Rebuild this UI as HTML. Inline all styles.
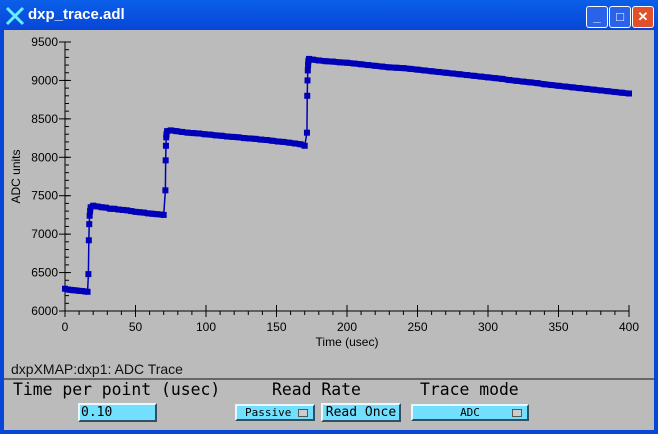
<!DOCTYPE html>
<html><head><meta charset="utf-8"><style>
body{margin:0;width:658px;height:434px;overflow:hidden;background:#0a3fd8;font-family:"Liberation Sans",sans-serif}
.win{position:absolute;left:0;top:0;width:658px;height:434px;background:linear-gradient(#0a5fe8,#0846d8 30px,#0846d8)}
.title{position:absolute;left:28px;top:6px;color:#fff;font-weight:bold;font-size:15px}
.btn{position:absolute;top:6px;width:20px;height:20px;border:1px solid #fff;border-radius:3px;background:#2a62ea;color:#fff;font-size:13px;text-align:center;line-height:20px;font-weight:bold}
.client{position:absolute;left:4px;top:30px;width:650px;height:400px;background:#bbbbbb}
.ctl{position:absolute;font-family:"DejaVu Sans Mono","Liberation Mono",monospace}
.cy{position:absolute;background:#73dfff;border:2px solid;border-color:#e8f8ff #305060 #305060 #e8f8ff;box-sizing:border-box;font-size:11px;font-family:"DejaVu Sans Mono",monospace;color:#000}
</style></head><body>
<div class="win">
<svg style="position:absolute;left:5px;top:6px" width="20" height="20"><path d="M2 2L18 18M18 2L2 18" stroke="#6ef" stroke-width="3"/></svg>
<div class="title">dxp_trace.adl</div>
<div class="btn" style="left:586px">_</div>
<div class="btn" style="left:609px">□</div>
<div class="btn" style="left:632px;background:#e0502a">✕</div>
<div class="client"></div>
<svg id="chart" style="position:absolute;left:0;top:0" width="658" height="380"></svg>
<div style="position:absolute;left:11px;top:361px;font-size:14px;color:#111">dxpXMAP:dxp1: ADC Trace</div>
<div style="position:absolute;left:4px;top:378px;width:650px;height:2px;background:#666"></div>
<div class="ctl" style="left:13px;top:380px;font-size:16.4px">Time per point (usec)</div>
<div class="ctl" style="left:272px;top:380px;font-size:16.4px">Read Rate</div>
<div class="ctl" style="left:420px;top:380px;font-size:16.4px">Trace mode</div>
<div class="cy" style="left:78px;top:403px;width:79px;height:19px;padding-left:1px;line-height:15px;font-size:13px">0.10</div>
<div class="cy" style="left:235px;top:404px;width:80px;height:17px;padding-left:8px;line-height:13px">Passive<span style="position:absolute;right:5px;top:3px;width:8px;height:6px;background:#ccc;border:1px solid #555"></span></div>
<div class="cy" style="left:321px;top:403px;width:80px;height:19px;text-align:center;line-height:15px;font-size:13px">Read Once</div>
<div class="cy" style="left:411px;top:404px;width:118px;height:17px;text-align:center;line-height:13px">ADC<span style="position:absolute;right:5px;top:3px;width:8px;height:6px;background:#ccc;border:1px solid #555"></span></div>
</div>
<script>
const times=[0,2,4,6,8,10,12,14,16,16.6,16.9,17.2,17.5,17.8,18.2,
20,23,26,29,32,35,38,41,44,47,50,53,56,59,62,65,68,70,
71.2,71.4,71.6,71.8,72,72.4,
75,79,83,87,91,95,99,103,107,111,115,119,123,127,131,135,139,143,147,151,155,159,163,167,170,
171.6,171.8,172,172.2,172.4,172.6,173,
176,180,185,190,195,200,205,210,215,220,225,230,235,240,245,250,255,260,265,270,275,280,285,290,295,300,305,310,315,320,325,330,335,340,345,350,355,360,365,370,375,380,385,390,395,400];
const values=[6290,6280,6275,6270,6268,6262,6260,6255,6250,6480,6920,7130,7240,7300,7350,
7370,7360,7350,7345,7330,7330,7320,7315,7310,7300,7290,7285,7280,7270,7265,7260,7255,7250,
7570,7960,8150,8260,8300,8340,
8350,8340,8330,8320,8315,8310,8300,8295,8285,8280,8270,8265,8260,8250,8245,8240,8230,8225,8215,8205,8200,8190,8180,8170,8150,
8320,8800,9000,9130,9200,9250,9280,
9270,9260,9250,9245,9235,9230,9220,9210,9200,9190,9180,9170,9165,9160,9150,9140,9130,9120,9110,9100,9090,9080,9070,9060,9050,9040,9030,9020,9005,8995,8985,8975,8965,8950,8940,8930,8920,8910,8900,8890,8880,8870,8860,8850,8840,8830];
const xTicks=[0,50,100,150,200,250,300,350,400];
const yTicks=[6000,6500,7000,7500,8000,8500,9000,9500];
const X0=65,X1=629,Y0=311,Y1=42;
const xs=t=>X0+(t-0)/400*(X1-X0);
const ys=v=>Y0-(v-6000)/3500*(Y0-Y1);
const NS='http://www.w3.org/2000/svg',svg=document.getElementById('chart');
function mk(tag,attrs){const e=document.createElementNS(NS,tag);for(const k in attrs)e.setAttribute(k,attrs[k]);svg.appendChild(e);return e;}
let ax=mk('path',{d:`M${X0} ${Y1}V${Y0}H${X1}`,stroke:'#000',fill:'none','stroke-width':1});


xTicks.forEach(t=>{const x=xs(t);
 let l=mk('line',{x1:x,x2:x,y1:Y0-6,y2:Y0+6,stroke:'#000'});
 
 
 let tx=mk('text',{x:x,y:Y0+20,'text-anchor':'middle','font-size':12,'font-family':'Liberation Sans'});tx.textContent=t;
 
 });
for(let t=0;t<400;t+=10){const x=xs(t);mk('line',{x1:x,x2:x,y1:Y0,y2:Y0+4,stroke:'#000'});}
yTicks.forEach(v=>{const y=ys(v);
 let l=mk('line',{x1:X0-6,x2:X0+6,y1:y,y2:y,stroke:'#000'});
 
 
 let tx=mk('text',{x:X0-7,y:y+4,'text-anchor':'end','font-size':12,'font-family':'Liberation Sans'});tx.textContent=v;
 
 });
for(let v=6000;v<9500;v+=100){const y=ys(v);mk('line',{x1:X0,x2:X0+4,y1:y,y2:y,stroke:'#000'});}
let xt=mk('text',{x:(X0+X1)/2,y:Y0+35,'text-anchor':'middle','font-size':12});xt.textContent='Time (usec)';


let yt=mk('text',{x:20,y:(Y0+Y1)/2,'text-anchor':'middle','font-size':12,transform:`rotate(-90 20 ${(Y0+Y1)/2})`});yt.textContent='ADC units';


let ln=mk('polyline',{points:times.map((t,i)=>xs(t)+','+ys(values[i])).join(' '),fill:'none',stroke:'#0000b8','stroke-width':1.5});


times.forEach((t,i)=>{let r=mk('rect',{x:xs(t)-3,y:ys(values[i])-3,width:6,height:6,fill:'#0000b8'});
 
 
 if(i+1<times.length&&Math.abs(values[i+1]-values[i])<60){
  let b=mk('line',{x1:xs(t),y1:ys(values[i]),x2:xs(times[i+1]),y2:ys(values[i+1]),stroke:'#0000b8','stroke-width':6});
  
  }});
</script>
</body></html>
